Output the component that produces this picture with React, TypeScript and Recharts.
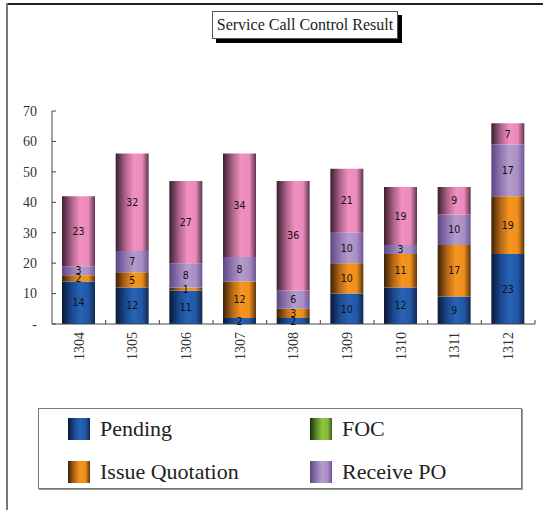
import { Bar, BarChart, LabelList, XAxis, YAxis } from 'recharts'

const months = ['1304', '1305', '1306', '1307', '1308', '1309', '1310', '1311', '1312']
const pending = [14, 12, 11, 2, 2, 10, 12, 9, 23]
const foc = [0, 0, 0, 0, 0, 0, 0, 0, 0]
const issueQuotation = [2, 5, 1, 12, 3, 10, 11, 17, 19]
const receivePO = [3, 7, 8, 8, 6, 10, 3, 10, 17]
const closed = [23, 32, 27, 34, 36, 21, 19, 9, 7]
const yTicks = [0, 10, 20, 30, 40, 50, 60, 70]

type Stop = [number, string]

// horizontal "cylinder" shading: dark left edge, bright middle, darker right edge
const SHADES: Record<string, Stop[]> = {
  pending: [[0, '#0b1836'], [0.3, '#1a4a92'], [0.55, '#2763b4'], [0.8, '#2257a6'], [1, '#10284f']],
  foc: [[0, '#1e2d0e'], [0.3, '#5a8a28'], [0.55, '#8cc63f'], [0.8, '#84bc3a'], [1, '#3e5e1a']],
  issueQuotation: [[0, '#3d2206'], [0.3, '#b86a18'], [0.55, '#f6951f'], [0.8, '#ee8e1d'], [1, '#5a3510']],
  receivePO: [[0, '#5d4585'], [0.3, '#9079b2'], [0.55, '#b59ccb'], [0.8, '#a88ec2'], [1, '#6d5695']],
  closed: [[0, '#3a1f2e'], [0.3, '#b0648c'], [0.55, '#f291c1'], [0.8, '#ea8aba'], [1, '#5e3450']],
}

const SERIES = [
  { key: 'pending', name: 'Pending', values: pending, legend: true },
  { key: 'foc', name: 'FOC', values: foc, legend: true },
  { key: 'issueQuotation', name: 'Issue Quotation', values: issueQuotation, legend: true },
  { key: 'receivePO', name: 'Receive PO', values: receivePO, legend: true },
  { key: 'closed', name: 'Closed', values: closed, legend: false },
]

const data = months.map((month, i) => {
  const row: Record<string, string | number> = { month }
  SERIES.forEach((s) => {
    row[s.key] = s.values[i]
  })
  return row
})

const SERIF = '"Liberation Serif", "Times New Roman", serif'
const AXIS = '#444'

const cssGradient = (stops: Stop[]) =>
  `linear-gradient(to right, ${stops.map(([o, c]) => `${c} ${o * 100}%`).join(', ')})`

const XTick = (props: any) => {
  const { x, y, payload } = props
  const half = payload?.offset ?? 26.8
  const axisY = y - 8
  return (
    <g>
      <line x1={x + half} x2={x + half} y1={axisY} y2={axisY - 4} stroke={AXIS} />
      <text
        x={x}
        y={y}
        transform={`rotate(-90 ${x} ${y})`}
        textAnchor="end"
        dy="0.35em"
        fontFamily={SERIF}
        fontSize={14}
        fill="#333"
      >
        {payload.value}
      </text>
    </g>
  )
}

const YTick = (props: any) => {
  const { x, y, payload } = props
  return (
    <g>
      <line x1={x + 15} x2={x + 19} y1={y} y2={y} stroke={AXIS} />
      <text x={x} y={y} dy="0.35em" textAnchor="end" fontFamily={SERIF} fontSize={14} fill="#333">
        {payload.value === 0 ? '-' : payload.value}
      </text>
    </g>
  )
}

const hideZero = (v: any) => (Number(v) === 0 ? '' : v)

export default function App() {
  const legendItems = SERIES.filter((s) => s.legend)
  return (
    <div style={{ position: 'absolute', left: 0, top: 0, width: 543, height: 510, background: '#fff', overflow: 'hidden' }}>
      {/* page frame */}
      <div style={{ position: 'absolute', left: 7, top: 3, width: 540, height: 0, borderTop: '2px solid #222' }} />
      <div style={{ position: 'absolute', left: 6, top: 3, width: 0, height: 510, borderLeft: '2px solid #777' }} />

      <BarChart
        width={543}
        height={510}
        data={data}
        margin={{ top: 111, right: 8, bottom: 146, left: 0 }}
        barSize={33}
        style={{ position: 'absolute', left: 0, top: 0 }}
      >
        <defs>
          {SERIES.map((s) => (
            <linearGradient key={s.key} id={`shade-${s.key}`} x1="0" y1="0" x2="1" y2="0">
              {SHADES[s.key].map(([o, c]) => (
                <stop key={o} offset={o} stopColor={c} />
              ))}
            </linearGradient>
          ))}
        </defs>
        <XAxis
          dataKey="month"
          interval={0}
          height={40}
          tickSize={6}
          tickMargin={2}
          tickLine={false}
          axisLine={{ stroke: AXIS }}
          tick={<XTick />}
        />
        <YAxis
          domain={[0, 70]}
          ticks={yTicks}
          width={52}
          tickSize={0}
          tickMargin={15}
          tickLine={false}
          axisLine={{ stroke: AXIS }}
          tick={<YTick />}
          allowDataOverflow
        />
        {SERIES.map((s) => (
          <Bar key={s.key} dataKey={s.key} name={s.name} stackId="calls" fill={`url(#shade-${s.key})`} isAnimationActive={false}>
            <LabelList
              dataKey={s.key}
              position="center"
              formatter={hideZero}
              fill="#111"
              fontSize={10.5}
              fontFamily='"DejaVu Sans Condensed", "DejaVu Sans", sans-serif'
            />
          </Bar>
        ))}
      </BarChart>

      {/* title */}
      <div
        style={{
          position: 'absolute',
          left: 212,
          top: 11,
          width: 186,
          height: 28,
          boxSizing: 'border-box',
          border: '1px solid #555',
          background: '#fff',
          boxShadow: '4px 4px 0 #000',
          fontFamily: SERIF,
          fontSize: 16,
          color: '#222',
          lineHeight: '26px',
          textAlign: 'center',
          whiteSpace: 'nowrap',
        }}
      >
        Service Call Control Result
      </div>

      {/* legend */}
      <div
        style={{
          position: 'absolute',
          left: 38,
          top: 408,
          width: 484,
          height: 81,
          boxSizing: 'border-box',
          border: '1px solid #777',
          boxShadow: '1px 1px 0 #999',
          background: '#fff',
        }}
      >
        {legendItems.map((s, i) => {
          const col = i % 2
          const row = Math.floor(i / 2)
          return (
            <div
              key={s.key}
              style={{
                position: 'absolute',
                left: col === 0 ? 29 : 271,
                top: row === 0 ? 9 : 52,
                display: 'flex',
                alignItems: 'center',
                height: 22,
              }}
            >
              <span style={{ width: 22, height: 22, background: cssGradient(SHADES[s.key]), display: 'inline-block' }} />
              <span style={{ marginLeft: 10, fontFamily: SERIF, fontSize: 22, color: '#222', lineHeight: '22px', whiteSpace: 'nowrap' }}>
                {s.name}
              </span>
            </div>
          )
        })}
      </div>
    </div>
  )
}
